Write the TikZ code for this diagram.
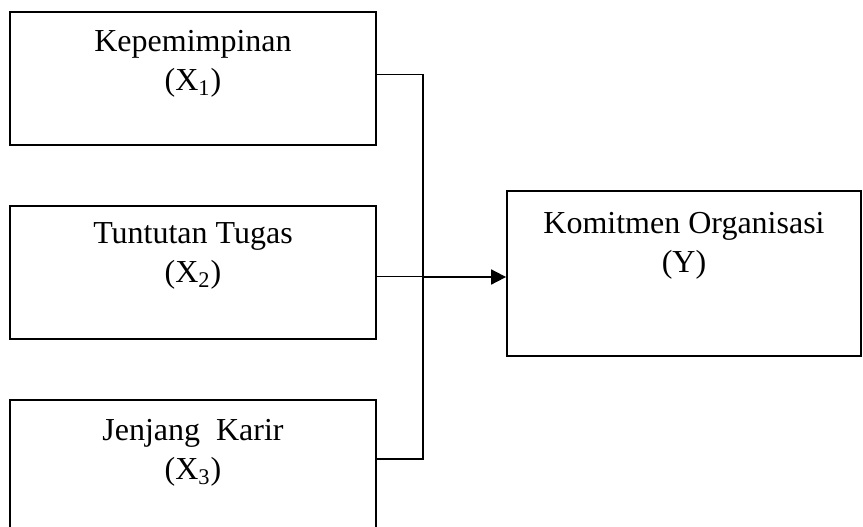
\documentclass[tikz,border=0pt]{standalone}
\usepackage{fontspec}
\setmainfont{Liberation Serif}
\usetikzlibrary{arrows.meta,positioning,calc}

\begin{document}
\begin{tikzpicture}[x=0.5pt,y=-0.5pt,>={Triangle[length=7.5pt,width=7.5pt]},
  every node/.style={font=\fontsize{16}{19.5}\selectfont},
  varbox/.style={draw,line width=0.9pt,minimum width=183pt},
  vartext/.style={align=center,inner sep=0pt,anchor=north}]
\path[use as bounding box] (0,0) rectangle (863,526);
\node[varbox,minimum height=66.5pt] (x1) at (193,78.5) {};
\node[varbox,minimum height=66.5pt] (x2) at (193,272.5) {};
\node[varbox,minimum height=66pt] (x3) at (193,466) {};
\node[draw,line width=0.9pt,minimum width=177pt,minimum height=82.5pt] (y) at (684,273.5) {};
\node[vartext] (t1) at ($(x1.north)+(0,19)$) {Kepemimpinan\\(X\textsubscript{1})};
\node[vartext] (t2) at ($(x2.north)+(0,17)$) {Tuntutan Tugas\\(X\textsubscript{2})};
\node[vartext] (t3) at ($(x3.north)+(0,20)$) {Jenjang\ \ Karir\\(X\textsubscript{3})};
\node[vartext] (ty) at ($(y.north)+(0,21.5)$) {Komitmen Organisasi\\(Y)};
\coordinate (jn) at (423,277);
\coordinate (p1) at ($(x1.north east)!0.47!(x1.south east)$);
\coordinate (p2) at ($(x2.north east)!0.53!(x2.south east)$);
\coordinate (p3) at ($(x3.north east)!0.45!(x3.south east)$);
\draw[line width=0.9pt] (p1) -| (jn |- p3) -- (p3);
\draw[line width=0.9pt] (p2) -- (jn |- p2);
\draw[->,line width=0.9pt] (jn) -- (jn -| y.west);
\end{tikzpicture}
\end{document}
